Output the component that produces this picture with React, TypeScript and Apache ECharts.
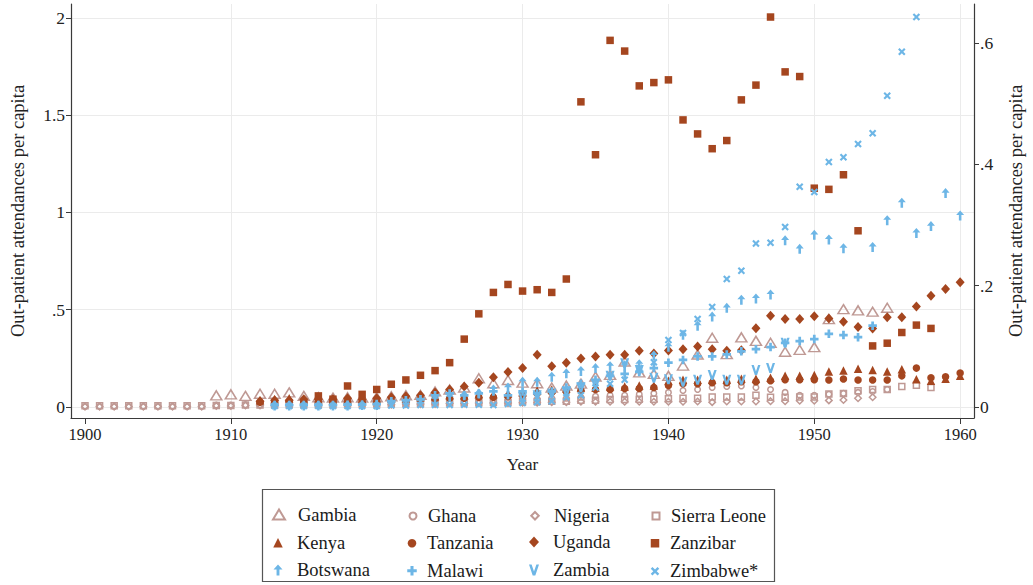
import React, { useEffect, useRef } from 'react';
import * as echarts from 'echarts';

const PINK = '#bf9994';
const RUST = '#a5461f';
const BLUE = '#6db6e6';
const FONT = '"Liberation Serif", "DejaVu Serif", serif';

const X_TICKS = [1900, 1910, 1920, 1930, 1940, 1950, 1960];
const X_GRID = [1910, 1920, 1930, 1940, 1950, 1960];
const LEFT_TICKS = [0, 0.5, 1, 1.5, 2];
const RIGHT_TICKS = [0, 0.2, 0.4, 0.6];

const gambiaStart = 1909;
const gambia = [0.06, 0.065, 0.057, 0.068, 0.068, 0.075, 0.057, 0.05, 0.048, 0.05, 0.048, 0.05, 0.055, 0.06, 0.062, 0.08, 0.09, 0.1, 0.148, 0.122, 0.139, 0.125, 0.122, 0.1, 0.11, 0.12, 0.156, 0.165, 0.234, 0.178, 0.17, 0.16, 0.213, 0.27, 0.356, 0.272, 0.358, 0.34, 0.33, 0.284, 0.294, 0.308, 0.452, 0.503, 0.497, 0.49, 0.51];

const ghanaStart = 1900;
const ghana = [0.003, 0.003, 0.003, 0.003, 0.003, 0.003, 0.003, 0.003, 0.003,
  0.01, 0.01, 0.012, 0.012, 0.012, 0.015, 0.015, 0.015, 0.015, 0.015, 0.018, 0.02,
  0.02, 0.022, 0.025, 0.025, 0.028, 0.03, 0.03, 0.035, 0.035, 0.04,
  0.04, 0.045, 0.045, 0.05, 0.055, 0.06, 0.06, 0.065, 0.07, 0.075,
  0.085, 0.09, 0.1, 0.105, 0.108, 0.1, 0.09, 0.075, 0.06, 0.06,
  0.065, 0.07, 0.075, 0.08, 0.09];

const nigeriaStart = 1900;
const nigeria = [0.002, 0.002, 0.002, 0.002, 0.002, 0.002, 0.002, 0.002, 0.002,
  0.005, 0.005, 0.008, 0.008, 0.008, 0.01, 0.01, 0.01, 0.01, 0.01, 0.012, 0.012,
  0.012, 0.015, 0.015, 0.015, 0.018, 0.018, 0.02, 0.02, 0.02, 0.022,
  0.022, 0.025, 0.025, 0.027, 0.027, 0.027, 0.027, 0.027, 0.027, 0.027,
  0.027, 0.028, 0.025, 0.028, 0.028, 0.028, 0.03, 0.03, 0.032, 0.032,
  0.034, 0.036, 0.045, 0.05];

const sierraLeoneStart = 1900;
const sierraLeone = [0.006, 0.006, 0.006, 0.006, 0.006, 0.006, 0.006, 0.006, 0.006,
  0.008, 0.008, 0.01, 0.01, 0.01, 0.012, 0.012, 0.012, 0.012, 0.015, 0.015, 0.015,
  0.015, 0.018, 0.018, 0.02, 0.02, 0.022, 0.022, 0.025, 0.025, 0.028,
  0.028, 0.03, 0.03, 0.035, 0.035, 0.038, 0.038, 0.04, 0.04, 0.042,
  0.045, 0.045, 0.052, 0.052, 0.052, 0.06, 0.05, 0.05, 0.052, 0.052,
  0.067, 0.07, 0.084, 0.09, 0.09, 0.105, 0.112, 0.1];

const kenyaStart = 1912;
const kenya = [0.035, 0.04, 0.045, 0.04, 0.04, 0.035, 0.04, 0.04, 0.04,
  0.045, 0.045, 0.05, 0.055, 0.06, 0.06, 0.065, 0.065, 0.07, 0.075,
  0.085, 0.09, 0.095, 0.1, 0.1, 0.105, 0.105, 0.11, 0.11, 0.135,
  0.14, 0.14, 0.14, 0.14, 0.145, 0.145, 0.15, 0.16, 0.16, 0.165,
  0.182, 0.187, 0.196, 0.19, 0.182, 0.194, 0.143, 0.135, 0.145, 0.16];

const tanzaniaStart = 1912;
const tanzania = [0.025, 0.03, 0.03, 0.03, 0.03, 0.03, 0.03, 0.03, 0.03,
  0.035, 0.035, 0.04, 0.04, 0.045, 0.045, 0.05, 0.05, 0.055, 0.06,
  0.07, 0.075, 0.08, 0.085, 0.09, 0.09, 0.095, 0.095, 0.1, 0.11,
  0.12, 0.12, 0.125, 0.125, 0.13, 0.13, 0.135, 0.14, 0.14, 0.14,
  0.139, 0.144, 0.139, 0.139, 0.139, 0.16, 0.2, 0.15, 0.155, 0.175];

const ugandaStart = 1912;
const uganda = [0.03, 0.035, 0.035, 0.04, 0.04, 0.04, 0.045, 0.04, 0.045,
  0.05, 0.055, 0.06, 0.075, 0.09, 0.105, 0.125, 0.153, 0.18, 0.2,
  0.268, 0.21, 0.228, 0.249, 0.259, 0.268, 0.268, 0.289, 0.275, 0.29,
  0.297, 0.311, 0.297, 0.289, 0.292, 0.405, 0.469, 0.452, 0.452, 0.466,
  0.455, 0.438, 0.411, 0.404, 0.462, 0.462, 0.517, 0.572, 0.607, 0.641];

const zanzibarStart = 1916;
const zanzibar = [0.057, 0.04, 0.108, 0.065, 0.09, 0.117, 0.139, 0.163, 0.187, 0.228,
  0.349, 0.479, 0.589, 0.63, 0.596, 0.603, 0.589, 0.658, 1.569, 1.297,
  1.885, 1.83, 1.651, 1.668, 1.682, 1.476, 1.404, 1.328, 1.37, 1.579,
  1.655, 2.005, 1.723, 1.699, 1.125, 1.119, 1.194, 0.906, 0.314, 0.328,
  0.383, 0.421, 0.404];

const botswanaStart = 1913;
const botswana = [0.008, 0.008, 0.008, 0.008, 0.008, 0.008, 0.01, 0.01,
  0.02, 0.025, 0.03, 0.04, 0.05, 0.06, 0.07, 0.09, 0.1, 0.13,
  0.13, 0.156, 0.173, 0.185, 0.2, 0.21, 0.215, 0.22, 0.265, 0.31,
  0.371, 0.418, 0.465, 0.51, 0.552, 0.558, 0.579, 0.857, 0.813, 0.885,
  0.861, 0.816, null, 0.823, 0.96, 1.05, 0.895, 0.93, 1.1, 0.985];

const malawiStart = 1913;
const malawi = [0.01, 0.01, 0.01, 0.01, 0.01, 0.012, 0.012, 0.015,
  0.03, 0.035, 0.04, 0.06, 0.07, 0.06, 0.07, 0.08, 0.06, 0.08,
  0.07, 0.08, 0.1, 0.12, 0.14, 0.16, 0.17, 0.18, 0.2, 0.228,
  0.242, 0.26, 0.26, 0.27, 0.286, 0.297, 0.308, 0.33, 0.339, 0.349,
  0.376, 0.37, 0.359, 0.418];

const zambiaStart = 1930;
const zambia = [0.05, 0.06, 0.07, 0.08, 0.1, 0.12, 0.16, 0.225, 0.19, 0.15,
  0.142, 0.13, 0.14, 0.165, 0.14, 0.14, 0.19, 0.2, 0.33];

const zimbabweStart = 1913;
const zimbabwe = [0.005, 0.005, 0.005, 0.005, 0.005, 0.005, 0.005, 0.005,
  0.008, 0.008, 0.01, 0.01, 0.01, 0.012, 0.012, 0.01, 0.015, 0.02,
  0.025, 0.03, 0.05, 0.06, 0.1, 0.12, 0.14, 0.2, 0.23, 0.345,
  0.38, 0.452, 0.514, 0.658, 0.7, 0.84, 0.844, 0.926, 1.132, 1.105,
  1.259, 1.284, 1.352, 1.407, 1.6, 1.826, 2.005];

const ARROW = 'path://M5,0 L10,5.5 L6.6,5.5 L6.6,12 L3.4,12 L3.4,5.5 L0,5.5 Z';
const PLUS = 'path://M3.4,0 H6.6 V3.4 H10 V6.6 H6.6 V10 H3.4 V6.6 H0 V3.4 H3.4 Z';
const VEE = 'path://M0,0 L2.6,0 L5,7 L7.4,0 L10,0 L6.3,11 L3.7,11 Z';
const CROSS = 'path://M0,2 L2,0 L5,3 L8,0 L10,2 L7,5 L10,8 L8,10 L5,7 L2,10 L0,8 L3,5 Z';

type Def = { name: string; start: number; values: (number | null)[]; symbol: string; size: number | number[]; color: string; hollow: boolean; col: number; row: number };

const DEFS: Def[] = [
  { name: 'Gambia', start: gambiaStart, values: gambia, symbol: 'triangle', size: [11, 9], color: PINK, hollow: true, col: 0, row: 0 },
  { name: 'Ghana', start: ghanaStart, values: ghana, symbol: 'circle', size: 5.5, color: PINK, hollow: true, col: 1, row: 0 },
  { name: 'Nigeria', start: nigeriaStart, values: nigeria, symbol: 'diamond', size: 6.5, color: PINK, hollow: true, col: 2, row: 0 },
  { name: 'Sierra Leone', start: sierraLeoneStart, values: sierraLeone, symbol: 'rect', size: 6, color: PINK, hollow: true, col: 3, row: 0 },
  { name: 'Kenya', start: kenyaStart, values: kenya, symbol: 'triangle', size: [8.5, 8.5], color: RUST, hollow: false, col: 0, row: 1 },
  { name: 'Tanzania', start: tanzaniaStart, values: tanzania, symbol: 'circle', size: 7.5, color: RUST, hollow: false, col: 1, row: 1 },
  { name: 'Uganda', start: ugandaStart, values: uganda, symbol: 'diamond', size: [9, 10], color: RUST, hollow: false, col: 2, row: 1 },
  { name: 'Zanzibar', start: zanzibarStart, values: zanzibar, symbol: 'rect', size: 7.5, color: RUST, hollow: false, col: 3, row: 1 },
  { name: 'Botswana', start: botswanaStart, values: botswana, symbol: ARROW, size: [8, 10], color: BLUE, hollow: false, col: 0, row: 2 },
  { name: 'Malawi', start: malawiStart, values: malawi, symbol: PLUS, size: 8.5, color: BLUE, hollow: false, col: 1, row: 2 },
  { name: 'Zambia', start: zambiaStart, values: zambia, symbol: VEE, size: [9, 10], color: BLUE, hollow: false, col: 2, row: 2 },
  { name: 'Zimbabwe*', start: zimbabweStart, values: zimbabwe, symbol: CROSS, size: 7.5, color: BLUE, hollow: false, col: 3, row: 2 },
];

const COL_ICON = [278, 412, 534, 655];
const COL_TEXT = [297, 427, 553, 670];
const ROW_Y = [510, 538, 566];

const fmt = (v: number) => {
  if (Math.abs(v) < 1e-9) return '0';
  const s = (Math.round(v * 10) / 10).toString();
  return s.replace(/^0\./, '.');
};

export default function App() {
  const ref = useRef<HTMLDivElement>(null);
  useEffect(() => {
    if (!ref.current) return;
    const chart = echarts.init(ref.current, undefined, { renderer: 'svg' });
    const axisColor = '#3a3a3a';
    const labelStyle = { fontFamily: FONT, fontSize: 16.5, color: '#222' };

    const series: any[] = [
      {
        type: 'scatter',
        name: '__grid',
        data: [],
        z: 0,
        zlevel: 0,
        silent: true,
        markLine: {
          silent: true,
          z: 0,
          symbol: ['none', 'none'],
          label: { show: false },
          lineStyle: { color: '#ebebeb', width: 1, type: 'solid' },
          data: [
            ...X_GRID.map((x) => ({ xAxis: x })),
            ...LEFT_TICKS.map((y) => ({ yAxis: y })),
          ],
        },
      },
      ...DEFS.map((d) => ({
        type: 'scatter',
        name: d.name,
        yAxisIndex: 0,
        symbol: d.symbol,
        symbolSize: d.size,
        z: 10,
        data: d.values
          .map((v, i) => (v == null ? null : [d.start + i, v]))
          .filter((p) => p !== null),
        itemStyle: d.hollow
          ? { color: 'rgba(255,255,255,0)', borderColor: d.color, borderWidth: 1.5, opacity: 1 }
          : { color: d.color, opacity: 1 },
      })),
    ];

    const legends = DEFS.map((d) => {
      const w = Array.isArray(d.size) ? d.size[0] : d.size;
      const h = Array.isArray(d.size) ? d.size[1] : d.size;
      const iw = Math.max(w, 6) + 1;
      const ih = Math.max(h, 6) + 1;
      const left = COL_ICON[d.col] - iw / 2;
      return {
        data: [d.name],
        left,
        top: ROW_Y[d.row] - ih / 2,
        padding: 0,
        itemWidth: iw,
        itemHeight: ih,
        selectedMode: false,
        textStyle: {
          fontFamily: FONT,
          fontSize: 18.5,
          color: '#1a1a1a',
          padding: [0, 0, 0, Math.max(0, COL_TEXT[d.col] - (left + iw) - 5)],
        },
      };
    });

    chart.setOption({
      animation: false,
      backgroundColor: '#ffffff',
      grid: { left: 70.5, right: 58, top: 4, bottom: 167, containLabel: false },
      legend: legends,
      graphic: [
        {
          type: 'rect',
          shape: { x: 262.5, y: 489.5, width: 512, height: 92 },
          style: { fill: 'none', stroke: '#555', lineWidth: 1.2 },
          silent: true,
        },
      ],
      xAxis: {
        type: 'value',
        min: 1899.04,
        max: 1960.95,
        name: 'Year',
        nameLocation: 'middle',
        nameGap: 38,
        nameTextStyle: { ...labelStyle, fontSize: 17 },
        axisLine: { show: true, onZero: false, lineStyle: { color: axisColor, width: 1.2 } },
        axisTick: { show: true, customValues: X_TICKS, length: 6, lineStyle: { color: axisColor } },
        axisLabel: { customValues: X_TICKS, formatter: (v: number) => String(Math.round(v)), margin: 8, ...labelStyle },
        splitLine: { show: false },
      },
      yAxis: [
        {
          type: 'value',
          position: 'left',
          min: -0.0566,
          max: 2.072,
          name: 'Out-patient attendances per capita',
          nameLocation: 'middle',
          nameGap: 44,
          nameTextStyle: { ...labelStyle, fontSize: 18.5 },
          axisLine: { show: true, onZero: false, lineStyle: { color: axisColor, width: 1.2 } },
          axisTick: { show: true, customValues: LEFT_TICKS, length: 5, lineStyle: { color: axisColor } },
          axisLabel: { customValues: LEFT_TICKS, formatter: fmt, margin: 6, ...labelStyle, fontSize: 17.5 },
          splitLine: { show: false },
        },
        {
          type: 'value',
          position: 'right',
          min: -0.0181,
          max: 0.6642,
          name: 'Out-patient attendances per capita',
          nameLocation: 'middle',
          nameGap: 32,
          nameTextStyle: { ...labelStyle, fontSize: 18.5 },
          axisLine: { show: true, onZero: false, lineStyle: { color: axisColor, width: 1.2 } },
          axisTick: { show: true, customValues: RIGHT_TICKS, length: 5, lineStyle: { color: axisColor } },
          axisLabel: { customValues: RIGHT_TICKS, formatter: fmt, margin: 6, ...labelStyle, fontSize: 17.5 },
          splitLine: { show: false },
        },
      ],
      series,
    });
    return () => chart.dispose();
  }, []);
  return (
    <div
      ref={ref}
      style={{ position: 'fixed', left: 0, top: 0, width: 1033, height: 585, background: '#fff' }}
    />
  );
}
